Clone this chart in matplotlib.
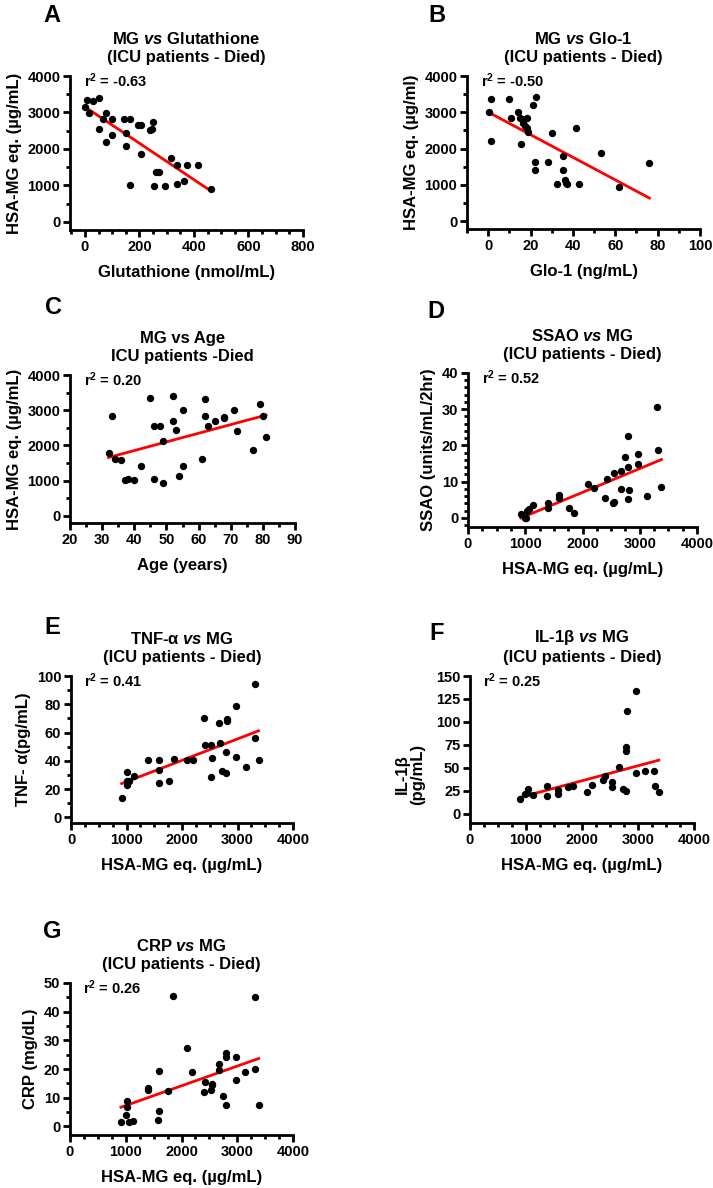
import numpy as np
import matplotlib
matplotlib.use("Agg")
import matplotlib.pyplot as plt
from matplotlib.ticker import MultipleLocator

plt.rcParams["font.family"] = ["Liberation Sans", "DejaVu Sans"]
plt.rcParams["font.weight"] = "bold"
plt.rcParams["mathtext.fontset"] = "custom"
plt.rcParams["mathtext.rm"] = "Liberation Sans:bold"
plt.rcParams["mathtext.it"] = "Liberation Sans:italic:bold"
plt.rcParams["mathtext.bf"] = "Liberation Sans:bold"

# A: MG vs Glutathione
gsh_x = [0, 8, 15, 28, 50, 53, 67, 77, 77, 100, 100, 143, 150, 150, 165, 165, 193, 205,
         205, 240, 247, 250, 254, 262, 271, 295, 315, 336, 336, 363, 376, 413, 462]
gsh_y = [3140, 3340, 2975, 3320, 3390, 2560, 2810, 2975, 2200, 2810, 2380, 2810, 2430, 2090,
         2810, 1010, 2670, 2670, 1850, 2520, 2560, 2750, 980, 1370, 1370, 980, 1760, 1570,
         1050, 1120, 1570, 1570, 890]

# B: MG vs Glo-1
glo_x = [0.5, 1.1, 1.1, 9.9, 11, 13.9, 15, 16, 15.7, 16.5, 17.3, 18.1, 18.1, 18.9, 21.1,
         22.8, 22, 22, 28.3, 29.9, 32.6, 35.4, 35.4, 36.2, 36.7, 37, 41.3, 42.8, 53.1,
         61.6, 76.1]
glo_y = [3020, 3370, 2220, 3360, 2850, 3020, 2850, 2810, 2130, 2700, 2610, 2850, 2560, 2450,
         3190, 3430, 1620, 1420, 1620, 2430, 1030, 1800, 1420, 1140, 1050, 1030, 2560, 1030,
         1880, 930, 1600]

# C: MG vs Age
age_x = [32, 33, 34, 36, 37, 38, 40, 42, 45, 46, 46, 48, 49, 49, 52, 52, 53, 55, 55, 54,
         61, 62, 62, 63, 65, 68, 68, 71, 72, 77, 79, 80, 81]
age_y = [1780, 2840, 1620, 1590, 1020, 1060, 1020, 1420, 3350, 2560, 1040, 2560, 2120, 930,
         3400, 2700, 2430, 3000, 1420, 1140, 1610, 3330, 2840, 2560, 2700, 2820, 2770, 3000,
         2410, 1870, 3170, 2840, 2230]

# D: SSAO vs MG
ssao_x = [923, 1004, 1016, 1028, 1057, 1132, 1405, 1405, 1591, 1597, 1765, 1852, 2096, 2200,
          2392, 2421, 2525, 2554, 2548, 2665, 2665, 2740, 2787, 2798, 2810, 2798, 2978, 2978,
          3135, 3310, 3321, 3379]
ssao_y = [1.0, 0.1, 0.0, 1.8, 2.5, 3.5, 4.0, 2.8, 5.6, 6.3, 2.8, 1.4, 9.5, 8.3, 5.4, 10.8,
          4.2, 4.4, 12.4, 12.9, 8.1, 16.9, 22.7, 14.1, 7.8, 5.1, 17.6, 15.0, 6.1, 30.5, 18.8, 8.6]

# E: TNF-alpha vs MG
tnf_x = [913, 1003, 1015, 1003, 1045, 1134, 1391, 1582, 1582, 1594, 1761, 1851, 2090, 2197,
         2388, 2412, 2531, 2549, 2525, 2669, 2687, 2728, 2800, 2800, 2806, 2812, 2979, 2979,
         3146, 3313, 3319, 3379]
tnf_y = [13.5, 31.8, 25.9, 22.8, 25.9, 29.4, 40.8, 40.8, 33.7, 24.2, 25.9, 41.3, 40.8, 40.8,
         70.5, 51.5, 51.5, 42.0, 28.7, 67.0, 52.5, 32.5, 31.1, 46.5, 68.1, 69.8, 78.6, 42.5,
         35.4, 56.0, 94.2, 40.6]

# F: IL-1beta vs MG
il1_x = [898, 988, 1030, 1018, 1120, 1377, 1377, 1569, 1569, 1754, 1838, 2084, 2186, 2383,
         2413, 2527, 2533, 2665, 2737, 2784, 2964, 3126, 3293, 3305, 3371, 2796, 2784, 2790,
         2964]
il1_y = [16.6, 21.7, 27.1, 22.8, 20.2, 30.0, 19.9, 26.4, 21.7, 28.9, 30.7, 23.5, 31.4, 37.2,
         40.8, 34.7, 28.9, 50.6, 27.5, 25.3, 44.5, 47.0, 47.0, 30.0, 23.9, 111.7, 72.6, 68.7,
         134.0]

# G: CRP vs MG
crp_x = [913, 1015, 1015, 1003, 1057, 1134, 1391, 1403, 1588, 1594, 1582, 1761, 1851, 2096,
         2197, 2400, 2418, 2549, 2549, 2537, 2669, 2669, 2746, 2800, 2800, 2800, 2979, 2979,
         3146, 3313, 3313, 3385]
crp_y = [1.4, 8.7, 6.6, 4.0, 1.5, 2.0, 13.4, 12.6, 19.4, 5.2, 2.1, 12.2, 45.3, 27.3, 19.0,
         11.9, 15.6, 14.8, 14.3, 12.8, 21.7, 19.5, 10.7, 25.6, 24.2, 7.6, 24.1, 16.3, 19.1,
         45.2, 20.1, 7.6]

MG_LABEL = "HSA-MG eq. (µg/mL)"

fig = plt.figure(figsize=(7.13, 11.88), dpi=100)
W, H = 713, 1188


def make_axes(left, right, top, bottom):
    return fig.add_axes([left / W, 1 - bottom / H, (right - left) / W, (bottom - top) / H])


def panel(ax, x, y, r2, title, xlabel, ylabel, xlim, ylim, xmaj, xmin, ymaj, ymin):
    x = np.array(x, dtype=float)
    y = np.array(y, dtype=float)
    ax.scatter(x, y, s=28, color="black", zorder=3, linewidths=0)
    k, b = np.polyfit(x, y, 1)
    xs = np.array([x.min(), x.max()])
    ax.plot(xs, k * xs + b, color="red", lw=2.0, zorder=2)
    ax.set_xlim(*xlim)
    ax.set_ylim(*ylim)
    ax.xaxis.set_major_locator(MultipleLocator(xmaj))
    ax.yaxis.set_major_locator(MultipleLocator(ymaj))
    if xmin:
        ax.xaxis.set_minor_locator(MultipleLocator(xmin))
    if ymin:
        ax.yaxis.set_minor_locator(MultipleLocator(ymin))
    for s in ["top", "right"]:
        ax.spines[s].set_visible(False)
    for s in ["left", "bottom"]:
        ax.spines[s].set_linewidth(2.0)
    ax.tick_params(which="major", length=5, width=2.0, labelsize=10.5, pad=2)
    ax.tick_params(which="minor", length=3, width=2.0)
    for lab in ax.get_xticklabels() + ax.get_yticklabels():
        lab.set_fontweight("bold")
    ax.set_title(title, fontsize=12, fontweight="bold", pad=10, linespacing=1.3)
    ax.set_xlabel(xlabel, fontsize=12, fontweight="bold", labelpad=8)
    ax.set_ylabel(ylabel, fontsize=12, fontweight="bold", labelpad=4)
    ax.text(0.06, 0.97, "r$^2$ = " + r2, transform=ax.transAxes, fontsize=10.5,
            fontweight="bold", va="center", ha="left")


axA = make_axes(70, 303, 76, 230)
panel(axA, gsh_x, gsh_y, "-0.63", "MG $\\it{vs}$ Glutathione\n(ICU patients - Died)",
      "Glutathione (nmol/mL)", MG_LABEL, (-55, 800), (-220, 4000), 200, 50, 1000, 500)

axB = make_axes(467, 700, 76, 229)
panel(axB, glo_x, glo_y, "-0.50", "MG $\\it{vs}$ Glo-1\n(ICU patients - Died)",
      "Glo-1 (ng/mL)", "HSA-MG eq. (µg/ml)", (-10, 100), (-220, 4000), 20, 10, 1000, 500)

axC = make_axes(70, 295, 375, 523)
panel(axC, age_x, age_y, "0.20", "MG vs Age\nICU patients -Died",
      "Age (years)", MG_LABEL, (20, 90), (-200, 4000), 10, 5, 1000, 500)

axD = make_axes(468, 697, 373, 527)
panel(axD, ssao_x, ssao_y, "0.52", "SSAO $\\it{vs}$ MG\n(ICU patients - Died)",
      MG_LABEL, "SSAO (units/mL/2hr)", (0, 4000), (-2.5, 40), 1000, 250, 10, 2)

axE = make_axes(71, 293, 676, 823)
panel(axE, tnf_x, tnf_y, "0.41", "TNF-α $\\it{vs}$ MG\n(ICU patients - Died)",
      MG_LABEL, "TNF- α(pg/mL)", (0, 4000), (-4, 100), 1000, 250, 20, 10)

axF = make_axes(470, 694, 676, 823)
panel(axF, il1_x, il1_y, "0.25", "IL-1β $\\it{vs}$ MG\n(ICU patients - Died)",
      MG_LABEL, "IL-1β\n(pg/mL)", (0, 4000), (-10, 150), 1000, 250, 25, None)
axF.yaxis.set_label_coords(-0.2, 0.33)
axF.yaxis.label.set_linespacing(1.05)

axG = make_axes(70, 293, 983, 1135)
panel(axG, crp_x, crp_y, "0.26", "CRP $\\it{vs}$ MG\n(ICU patients - Died)",
      MG_LABEL, "CRP (mg/dL)", (0, 4000), (-3, 50), 1000, 250, 10, 5)

for letter, px, py in [("A", 52, 15), ("B", 437, 15), ("C", 53, 308), ("D", 436, 312),
                       ("E", 52, 627), ("F", 437, 634), ("G", 52, 932)]:
    fig.text(px / W, 1 - py / H, letter, fontsize=17, fontweight="bold",
             ha="center", va="center")

fig.savefig("out.png", dpi=100)
